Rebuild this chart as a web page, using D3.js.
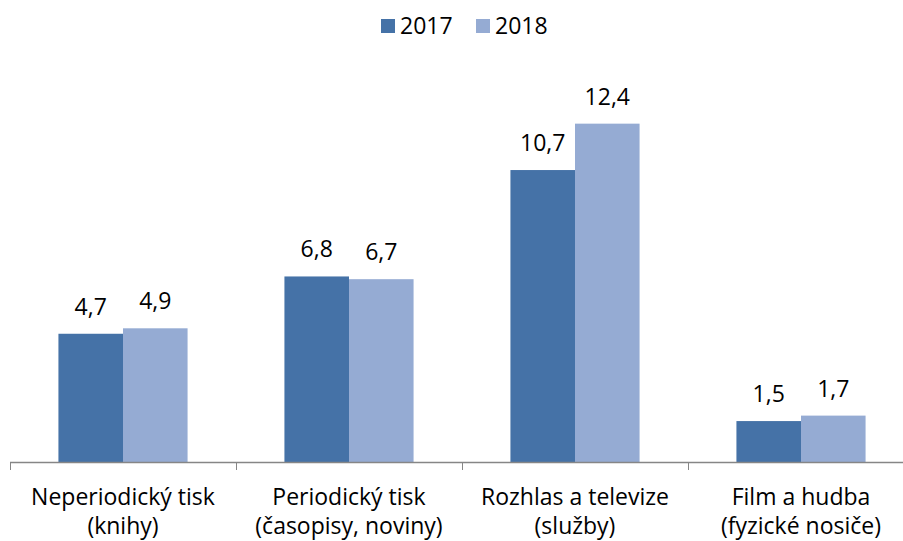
<!DOCTYPE html>
<html><head><meta charset="utf-8">
<script src="https://cdn.jsdelivr.net/npm/d3@7"></script>
<style>body{margin:0;background:#fff}svg{display:block}text{font-family:"Open Sans",sans-serif;fill:#000}</style>
</head><body>
<svg id="c" width="903" height="541"></svg>
<script>
const categories = [["Neperiodický tisk","(knihy)"],["Periodický tisk","(časopisy, noviny)"],["Rozhlas a televize","(služby)"],["Film a hudba","(fyzické nosiče)"]];
const seriesNames = ["2017","2018"];
const values2017 = [4.7, 6.8, 10.7, 1.5];
const values2018 = [4.9, 6.7, 12.4, 1.7];
const colors = ["#4572A7","#95ABD3"];
const series = [values2017, values2018];
const FS = 23;

const svg = d3.select("#c");
const x0 = d3.scaleBand().domain(d3.range(categories.length)).range([10, 914]).paddingInner(0).paddingOuter(0);
const x1 = d3.scaleBand().domain([0,1]).range([0, x0.bandwidth()]).paddingInner(0).paddingOuter(0.75);
const y = d3.scaleLinear().domain([0, 14]).range([462, 80]);

const g = svg.append("g");
categories.forEach((c, i) => {
  series.forEach((s, j) => {
    g.append("rect")
      .attr("x", x0(i) + x1(j))
      .attr("y", y(s[i]))
      .attr("width", x1.bandwidth())
      .attr("height", y(0) - y(s[i]))
      .attr("fill", colors[j]);
    g.append("text")
      .attr("x", x0(i) + x1(j) + x1.bandwidth()/2)
      .attr("y", y(s[i]) - 19)
      .attr("text-anchor", "middle")
      .attr("font-size", FS)
      .text(d3.format(".1f")(s[i]).replace(".", ","));
  });
});

// axis
const ax = svg.append("g");
ax.append("line").attr("x1", 10).attr("x2", 914).attr("y1", 462.5).attr("y2", 462.5).attr("stroke", "#868686").attr("stroke-width", 1.5);
d3.range(categories.length + 1).forEach(i => {
  const xx = Math.round(x0.range()[0] + i * x0.bandwidth()) + 0.5;
  ax.append("line").attr("x1", xx).attr("x2", xx).attr("y1", 462).attr("y2", 470).attr("stroke", "#868686").attr("stroke-width", 1);
});
categories.forEach((c, i) => {
  const cx = x0(i) + x0.bandwidth()/2;
  ax.append("text").attr("text-anchor", "middle").attr("font-size", FS).attr("x", cx).attr("y", 505).text(c[0]);
  ax.append("text").attr("text-anchor", "middle").attr("font-size", FS).attr("x", cx).attr("y", 534).text(c[1]);
});

// legend
const legX = [381, 476];
seriesNames.forEach((n, j) => {
  svg.append("rect").attr("x", legX[j]).attr("y", 19).attr("width", 14).attr("height", 14).attr("fill", colors[j]);
  svg.append("text").attr("x", legX[j] + 19).attr("y", 34).attr("font-size", FS).text(n);
});
</script>
</body></html>
